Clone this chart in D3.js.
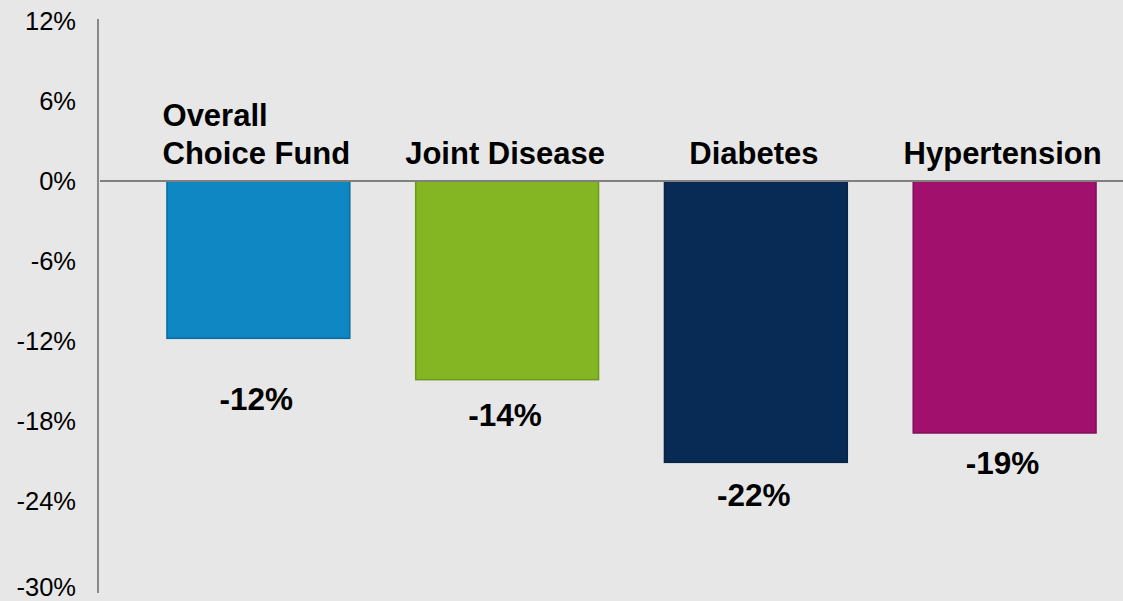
<!DOCTYPE html>
<html>
<head>
<meta charset="utf-8">
<script src="https://cdn.jsdelivr.net/npm/d3@7/dist/d3.min.js"></script>
<style>
  html, body { margin: 0; padding: 0; background: #e7e7e7; }
  svg { display: block; }
  text { font-family: "Liberation Sans", Arial, sans-serif; }
</style>
</head>
<body>
<svg id="chart" width="1123" height="601"></svg>
<script>
// ---- data ----
const categories = [["Overall", "Choice Fund"], ["Joint Disease"], ["Diabetes"], ["Hypertension"]];
const values = [-11.8, -14.9, -21.1, -18.9];
const valueLabels = ["-12%", "-14%", "-22%", "-19%"];
const tickValues = [12, 6, 0, -6, -12, -18, -24, -30];
const colors = ["#0f87c3", "#84b623", "#072b55", "#a0106c"];
const strokes = ["#0b6c9e", "#6c981a", "#0a2446", "#82105a"];

// ---- layout ----
const W = 1123, H = 601;
const svg = d3.select("#chart");
svg.append("rect").attr("width", W).attr("height", H).attr("fill", "#e7e7e7");

const y = d3.scaleLinear().domain([12, -30]).range([21, 581]);
const x = d3.scaleBand().domain(d3.range(categories.length))
  .range([134, 1129]).paddingInner(0.265).paddingOuter(0.1325);

// y axis
const yAxis = d3.axisLeft(y).tickValues(tickValues).tickSize(0).tickPadding(22)
  .tickFormat(d => d + "%");
const gy = svg.append("g").attr("transform", "translate(98,0)").call(yAxis);
gy.select(".domain").remove();
gy.selectAll("text")
  .attr("font-size", 25.5)
  .attr("fill", "#000")
  .attr("font-family", "'Liberation Sans', Arial, sans-serif")
  .attr("dy", d => d === -30 ? "0.58em" : "0.35em");
svg.append("line").attr("x1", 98).attr("x2", 98).attr("y1", 19).attr("y2", 593)
  .attr("stroke", "#8a8a8a").attr("stroke-width", 2);

// bars
svg.selectAll("rect.bar").data(values).join("rect")
  .attr("class", "bar")
  .attr("x", (d, i) => x(i))
  .attr("width", x.bandwidth())
  .attr("y", d => y(Math.max(0, d)))
  .attr("height", d => Math.abs(y(d) - y(0)))
  .attr("fill", (d, i) => colors[i])
  .attr("stroke", (d, i) => strokes[i])
  .attr("stroke-width", 1.5);

// zero line
svg.append("line").attr("x1", 100).attr("x2", W).attr("y1", y(0)).attr("y2", y(0))
  .attr("stroke", "#808080").attr("stroke-width", 2);

// category labels (above zero line)
const labelSize = 31;
const lineH = 38;
categories.forEach((lines, i) => {
  const cx = x(i) + x.bandwidth() / 2 - 2;
  const t = svg.append("text")
    .attr("font-size", labelSize).attr("font-weight", "bold").attr("fill", "#000");
  const n = lines.length;
  lines.forEach((ln, j) => {
    t.append("tspan").attr("x", cx).attr("y", y(0) - 17 - (n - 1 - j) * lineH).text(ln);
  });
  // left-align lines within a block centered on the bar
  const maxW = d3.max(t.selectAll("tspan").nodes(), nd => nd.getComputedTextLength());
  t.selectAll("tspan").attr("x", cx - maxW / 2);
});

// value labels below bars
const labelGap = [72, 46, 44, 41];
svg.selectAll("text.val").data(values).join("text")
  .attr("class", "val")
  .attr("x", (d, i) => x(i) + x.bandwidth() / 2 - 2)
  .attr("y", (d, i) => y(d) + labelGap[i])
  .attr("text-anchor", "middle")
  .attr("font-size", 31.5).attr("font-weight", "bold").attr("fill", "#000")
  .text((d, i) => valueLabels[i]);
</script>
</body>
</html>
